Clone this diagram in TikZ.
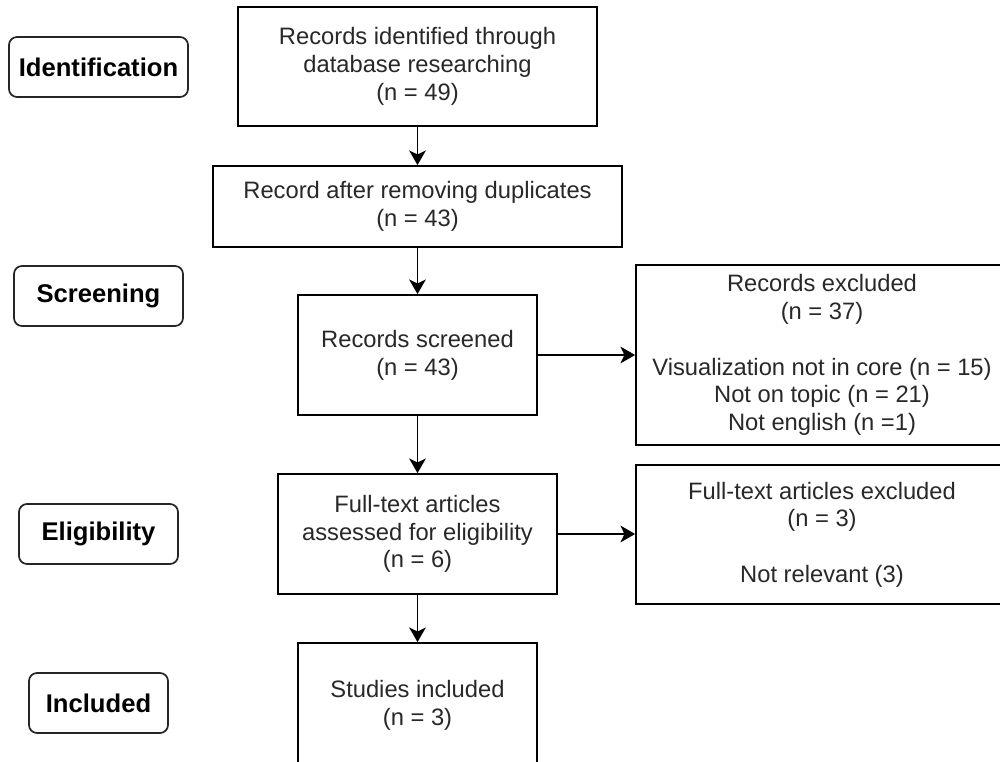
\documentclass[tikz,border=0pt]{standalone}
\usepackage{fontspec}
\setmainfont{Liberation Sans}
\usepackage{tikz}
\usetikzlibrary{arrows.meta, positioning, calc}
\usepackage{xcolor}
\definecolor{BoxText}{RGB}{40,40,40}

\tikzset{
  flowbox/.style={draw=black, line width=1.3pt, rectangle, inner sep=0pt,
                  align=center, text=BoxText,
                  font=\fontsize{17.8}{20.8}\selectfont},
  stagebox/.style={draw=black!85, line width=1.3pt, rounded corners=6pt,
                   inner sep=0pt, minimum height=45pt, align=center,
                   font=\fontsize{19.2}{22}\selectfont\bfseries},
  flowarrow/.style={line width=1.3pt,
                    -{Stealth[length=11pt, width=12.5pt, inset=3pt]}}
}

\begin{document}
\begin{tikzpicture}[x=0.75pt, y=-0.75pt]
    \clip (0,0) rectangle (1000,761);
    \fill[white] (0,0) rectangle (1000,761);

    % stages on the left
    \node[stagebox, minimum width=134.25pt] (identification) at (98.5,67) {Identification};
    \node[stagebox, minimum width=126.75pt] (screening) at (98.5,296) {Screening};
    \node[stagebox, minimum width=119.25pt] (eligibility) at (98.5,534) {Eligibility};
    \node[stagebox, minimum width=104.25pt] (included) at (98.5,703) {Included};

    % main flow
    \node[flowbox, minimum width=269.25pt, minimum height=89.25pt] (identified) at (417.5,66.5)
      {Records identified through\\database researching\\(n = 49)};
    \node[flowbox, minimum width=306.75pt, minimum height=60.75pt] (deduplicated) at (417.5,206.5)
      {Record after removing duplicates\\(n = 43)};
    \node[flowbox, minimum width=179.25pt, minimum height=90pt] (screened) at (417.5,355)
      {Records screened\\(n = 43)};
    \node[flowbox, minimum width=209.25pt, minimum height=90pt] (assessed) at (417.5,534)
      {Full-text articles\\assessed for eligibility\\(n = 6)};
    \node[flowbox, minimum width=179.25pt, minimum height=93pt] (studies) at (417.5,705)
      {Studies included\\(n = 3)};

    % exclusions
    \node[flowbox, minimum width=279pt, minimum height=135pt] (excluded) at (822,355)
      {Records excluded\\(n = 37)\\[20.8pt]Visualization not in core (n = 15)\\Not on topic (n = 21)\\Not english (n =1)};
    \node[flowbox, minimum width=279pt, minimum height=104.25pt] (fulltextout) at (822,534.5)
      {Full-text articles excluded\\(n = 3)\\[20.8pt]Not relevant (3)};

    \draw[flowarrow] (identified) -- (deduplicated);
    \draw[flowarrow] (deduplicated) -- (screened);
    \draw[flowarrow] (screened) -- (assessed);
    \draw[flowarrow] (assessed) -- (studies);
    \draw[flowarrow] (screened.east) -- (excluded.west);
    \draw[flowarrow] (assessed.east) -- (assessed.east -| fulltextout.west);
  \end{tikzpicture}
\end{document}
